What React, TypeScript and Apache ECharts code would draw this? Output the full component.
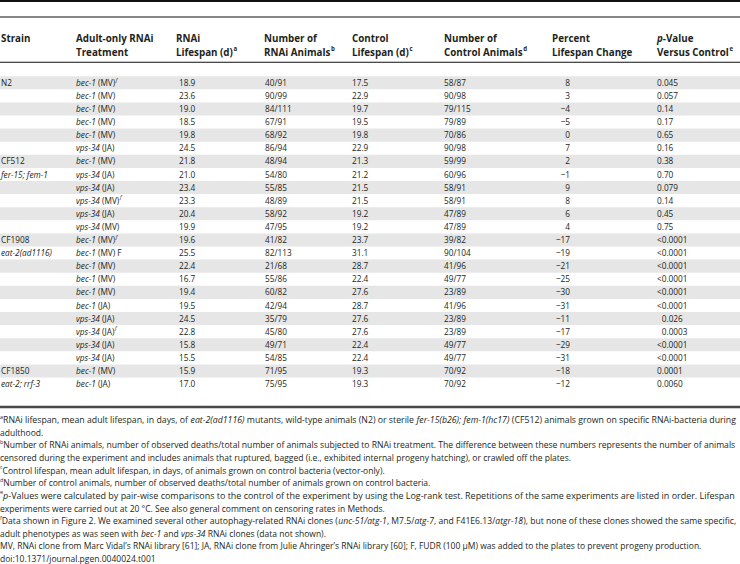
import React, { useEffect, useRef } from "react";
import * as echarts from "echarts";

// ---------- data ----------
const strainCodes = ["N2", "", "", "", "", "", "CF512", "", "", "", "", "", "CF1908", "", "", "", "", "", "", "", "", "", "CF1850", ""];
const genotypes = ["", "", "", "", "", "", "", "fer-15; fem-1", "", "", "", "", "", "eat-2(ad1116)", "", "", "", "", "", "", "", "", "", "eat-2; rrf-3"];
const genes = ["bec-1", "bec-1", "bec-1", "bec-1", "bec-1", "vps-34", "bec-1", "vps-34", "vps-34", "vps-34", "vps-34", "vps-34", "bec-1", "bec-1", "bec-1", "bec-1", "bec-1", "bec-1", "vps-34", "vps-34", "vps-34", "vps-34", "bec-1", "bec-1"];
const libraries = ["MV", "MV", "MV", "MV", "MV", "JA", "MV", "JA", "JA", "MV", "JA", "MV", "MV", "MV", "MV", "MV", "MV", "JA", "JA", "JA", "JA", "JA", "MV", "JA"];
const treatmentFlags = ["f", "", "", "", "", "", "", "", "", "f", "", "", "f", "F", "", "", "", "", "", "f", "", "", "", ""];
const rnaiLifespan = ["18.9", "23.6", "19.0", "18.5", "19.8", "24.5", "21.8", "21.0", "23.4", "23.3", "20.4", "19.9", "19.6", "25.5", "22.4", "16.7", "19.4", "19.5", "24.5", "22.8", "15.8", "15.5", "15.9", "17.0"];
const rnaiAnimals = ["40/91", "90/99", "84/111", "67/91", "68/92", "86/94", "48/94", "54/80", "55/85", "48/89", "58/92", "47/95", "41/82", "82/113", "21/68", "55/86", "60/82", "42/94", "35/79", "45/80", "49/71", "54/85", "71/95", "75/95"];
const controlLifespan = ["17.5", "22.9", "19.7", "19.5", "19.8", "22.9", "21.3", "21.2", "21.5", "21.5", "19.2", "19.2", "23.7", "31.1", "28.7", "22.4", "27.6", "28.7", "27.6", "27.6", "22.4", "22.4", "19.3", "19.3"];
const controlAnimals = ["58/87", "90/98", "79/115", "79/89", "70/86", "90/98", "59/99", "60/96", "58/91", "58/91", "47/89", "47/89", "39/82", "90/104", "41/96", "49/77", "23/89", "41/96", "23/89", "23/89", "49/77", "49/77", "70/92", "70/92"];
const percentChange = [8, 3, -4, -5, 0, 7, 2, -1, 9, 8, 6, 4, -17, -19, -21, -25, -30, -31, -11, -17, -29, -31, -18, -12];
const pValues = ["0.045", "0.057", "0.14", "0.17", "0.65", "0.16", "0.38", "0.70", "0.079", "0.14", "0.45", "0.75", "<0.0001", "<0.0001", "<0.0001", "<0.0001", "<0.0001", "<0.0001", "0.026", "0.0003", "<0.0001", "<0.0001", "0.0001", "0.0060"];
const groupStarts = [0, 6, 12, 22];

type Seg = { t: string; i?: boolean; b?: boolean; sup?: boolean };

const headerLine1: Seg[][] = [
  [{ t: "Strain", b: true }],
  [{ t: "Adult-only RNAi", b: true }],
  [{ t: "RNAi", b: true }],
  [{ t: "Number of", b: true }],
  [{ t: "Control", b: true }],
  [{ t: "Number of", b: true }],
  [{ t: "Percent", b: true }],
  [{ t: "p", b: true, i: true }, { t: "-Value", b: true }],
];
const headerLine2: Seg[][] = [
  [],
  [{ t: "Treatment", b: true }],
  [{ t: "Lifespan (d)", b: true }, { t: "a", b: true, sup: true }],
  [{ t: "RNAi Animals", b: true }, { t: "b", b: true, sup: true }],
  [{ t: "Lifespan (d)", b: true }, { t: "c", b: true, sup: true }],
  [{ t: "Control Animals", b: true }, { t: "d", b: true, sup: true }],
  [{ t: "Lifespan Change", b: true }],
  [{ t: "Versus Control", b: true }, { t: "e", b: true, sup: true }],
];

const footnotes: { segs: Seg[]; justify: boolean }[] = [
  { segs: [{ t: "a", sup: true }, { t: "RNAi lifespan, mean adult lifespan, in days, of " }, { t: "eat-2(ad1116)", i: true }, { t: " mutants, wild-type animals (N2) or sterile " }, { t: "fer-15(b26); fem-1(hc17)", i: true }, { t: " (CF512) animals grown on specific RNAi-bacteria during" }], justify: true },
  { segs: [{ t: "adulthood." }], justify: false },
  { segs: [{ t: "b", sup: true }, { t: "Number of RNAi animals, number of observed deaths/total number of animals subjected to RNAi treatment. The difference between these numbers represents the number of animals" }], justify: true },
  { segs: [{ t: "censored during the experiment and includes animals that ruptured, bagged (i.e., exhibited internal progeny hatching), or crawled off the plates." }], justify: false },
  { segs: [{ t: "c", sup: true }, { t: "Control lifespan, mean adult lifespan, in days, of animals grown on control bacteria (vector-only)." }], justify: false },
  { segs: [{ t: "d", sup: true }, { t: "Number of control animals, number of observed deaths/total number of animals grown on control bacteria." }], justify: false },
  { segs: [{ t: "e", sup: true }, { t: "p", i: true }, { t: "-Values were calculated by pair-wise comparisons to the control of the experiment by using the Log-rank test. Repetitions of the same experiments are listed in order. Lifespan" }], justify: true },
  { segs: [{ t: "experiments were carried out at 20 °C. See also general comment on censoring rates in Methods." }], justify: false },
  { segs: [{ t: "f", sup: true }, { t: "Data shown in Figure 2. We examined several other autophagy-related RNAi clones (" }, { t: "unc-51/atg-1", i: true }, { t: ", M7.5/" }, { t: "atg-7", i: true }, { t: ", and F41E6.13/" }, { t: "atgr-18", i: true }, { t: "), but none of these clones showed the same specific," }], justify: true },
  { segs: [{ t: "adult phenotypes as was seen with " }, { t: "bec-1", i: true }, { t: " and " }, { t: "vps-34", i: true }, { t: " RNAi clones (data not shown)." }], justify: false },
  { segs: [{ t: "MV, RNAi clone from Marc Vidal’s RNAi library [61]; JA, RNAi clone from Julie Ahringer’s RNAi library [60]; F, FUDR (100 μM) was added to the plates to prevent progeny production." }], justify: false },
  { segs: [{ t: "doi:10.1371/journal.pgen.0040024.t001" }], justify: false },
];

// ---------- layout helpers ----------
const FONT = '"Open Sans", "Noto Sans", sans-serif';
const INK = "#231f20";
let mctx: CanvasRenderingContext2D | null = null;
function measure(t: string, size: number, bold?: boolean, italic?: boolean): number {
  if (!mctx) mctx = document.createElement("canvas").getContext("2d");
  if (!mctx) return t.length * size * 0.5;
  mctx.font = `${italic ? "italic " : ""}${bold ? "bold " : ""}${size}px "Open Sans"`;
  return mctx.measureText(t).width;
}
const SUP = 0.62;
function segsWidth(segs: Seg[], size: number): number {
  let w = 0;
  for (const s of segs) {
    w += measure(s.t, s.sup ? size * SUP : size, s.b, s.i) + (s.sup ? 0.6 : 0);
  }
  return w;
}
function layout(segs: Seg[], x: number, y: number, size: number, scale: number, align: "left" | "right" = "left"): any[] {
  const out: any[] = [];
  let cx = align === "right" ? x - segsWidth(segs, size) * scale : x;
  for (const s of segs) {
    const fs = s.sup ? size * SUP : size;
    const dy = s.sup ? -size * 0.36 : 0;
    if (s.sup && cx > 1) cx += 0.6;
    out.push({
      type: "text",
      x: cx,
      y: y + dy,
      scaleX: scale,
      silent: true,
      style: {
        text: s.t,
        x: 0,
        y: 0,
        fill: INK,
        fontFamily: FONT,
        fontSize: fs,
        fontWeight: s.b ? "bold" : "normal",
        fontStyle: s.i ? "italic" : "normal",
        textAlign: "left",
        textVerticalAlign: "middle",
        align: "left",
        verticalAlign: "middle",
      },
    });
    cx += measure(s.t, fs, s.b, s.i) * scale;
  }
  return out;
}

const COLS = { strain: 1, treat: 76, rnaiLife: 179, rnaiN: 265, ctrlLife: 352, ctrlN: 444, pctRight: 570, p: 657 };
const HEAD_X = [1, 76, 176, 264, 352, 444, 552, 657];
const BODY_SIZE = 9;
const BODY_SCALE = 0.92;
const HEAD_SIZE = 10;
const HEAD_SCALE = 0.98;
const FOOT_SIZE = 8.5;

function fmtPct(v: number): string {
  return v < 0 ? "\u2212" + Math.abs(v) : String(v);
}

export default function App() {
  const ref = useRef<HTMLDivElement>(null);
  useEffect(() => {
    if (!ref.current) return;
    const chart = echarts.init(ref.current, undefined, { renderer: "svg" });
    const n = rnaiLifespan.length;
    const rowIds = rnaiLifespan.map((_, i) => String(i));

    const groupOf = (i: number) => {
      let g = 0;
      groupStarts.forEach((s, k) => { if (i >= s) g = k; });
      return g;
    };
    const groupHasLess = groupStarts.map((s, k) => {
      const e = k + 1 < groupStarts.length ? groupStarts[k + 1] : n;
      return pValues.slice(s, e).some((p) => p.startsWith("<"));
    });
    const lessW = measure("<", BODY_SIZE) * BODY_SCALE;

    const renderItem = (params: any, api: any) => {
      const i = params.dataIndex;
      const c = api.coord([0, i]);
      const y = c[1];
      const band = api.size([0, 1])[1];
      const X = (v: number) => api.coord([v, i])[0];
      const children: any[] = [];
      if (i % 2 === 0) {
        children.push({
          type: "rect",
          shape: { x: X(0), y: y - band / 2, width: X(740) - X(0), height: band },
          style: { fill: "#e6e6e6" },
          silent: true,
        });
      }
      const strainSegs: Seg[] = strainCodes[i] ? [{ t: strainCodes[i] }] : genotypes[i] ? [{ t: genotypes[i], i: true }] : [];
      children.push(...layout(strainSegs, X(COLS.strain), y, BODY_SIZE, BODY_SCALE));
      const tSegs: Seg[] = [{ t: genes[i], i: true }, { t: ` (${libraries[i]})` }];
      if (treatmentFlags[i] === "f") tSegs.push({ t: "f", sup: true, i: true });
      if (treatmentFlags[i] === "F") tSegs.push({ t: " F" });
      children.push(...layout(tSegs, X(COLS.treat), y, BODY_SIZE, BODY_SCALE));
      children.push(...layout([{ t: rnaiLifespan[i] }], X(COLS.rnaiLife), y, BODY_SIZE, BODY_SCALE));
      children.push(...layout([{ t: rnaiAnimals[i] }], X(COLS.rnaiN), y, BODY_SIZE, BODY_SCALE));
      children.push(...layout([{ t: controlLifespan[i] }], X(COLS.ctrlLife), y, BODY_SIZE, BODY_SCALE));
      children.push(...layout([{ t: controlAnimals[i] }], X(COLS.ctrlN), y, BODY_SIZE, BODY_SCALE));
      children.push(...layout([{ t: fmtPct(percentChange[i]) }], X(COLS.pctRight), y, BODY_SIZE, BODY_SCALE, "right"));
      const p = pValues[i];
      const indent = groupHasLess[groupOf(i)] && !p.startsWith("<") ? lessW : 0;
      children.push(...layout([{ t: p }], X(COLS.p) + indent, y, BODY_SIZE, BODY_SCALE));
      return { type: "group", children };
    };

    // header and footnotes
    const graphics: any[] = [];
    graphics.push({ type: "rect", shape: { x: 0, y: 0, width: 740, height: 2 }, style: { fill: "#111" }, silent: true });
    graphics.push({ type: "rect", shape: { x: 0, y: 16.5, width: 740, height: 1 }, style: { fill: "#111" }, silent: true });
    graphics.push({ type: "rect", shape: { x: 0, y: 61.8, width: 740, height: 1 }, style: { fill: "#111" }, silent: true });
    graphics.push({ type: "rect", shape: { x: 0, y: 405.8, width: 740, height: 2.4 }, style: { fill: "#4a4a4a" }, silent: true });
    headerLine1.forEach((segs, k) => graphics.push(...layout(segs, HEAD_X[k], 37.8, HEAD_SIZE, HEAD_SCALE)));
    headerLine2.forEach((segs, k) => graphics.push(...layout(segs, HEAD_X[k], 52.4, HEAD_SIZE, HEAD_SCALE)));

    const mvW = segsWidth(footnotes[10].segs, FOOT_SIZE);
    const footScale = Math.max(0.82, Math.min(1.08, 703 / mvW));
    footnotes.forEach((fn, k) => {
      const w = segsWidth(fn.segs, FOOT_SIZE);
      const sc = fn.justify ? 737 / w : footScale;
      graphics.push(...layout(fn.segs, 0, 420 + k * 12.6, FOOT_SIZE, sc));
    });

    chart.setOption({
      animation: false,
      grid: { left: 0, right: 0, top: 76.2, height: 13.1 * n, containLabel: false },
      xAxis: { type: "value", min: 0, max: 740, show: false },
      yAxis: { type: "category", data: rowIds, inverse: true, show: false },
      series: [
        {
          type: "custom",
          renderItem,
          clip: false,
          silent: true,
          data: rowIds.map((_, i) => [0, i]),
          encode: { x: 0, y: 1 },
        },
      ],
      graphic: { elements: graphics },
    });
    return () => chart.dispose();
  }, []);
  return (
    <div
      ref={ref}
      style={{ position: "absolute", left: 0, top: 0, width: 740, height: 564, background: "#fff" }}
    />
  );
}
